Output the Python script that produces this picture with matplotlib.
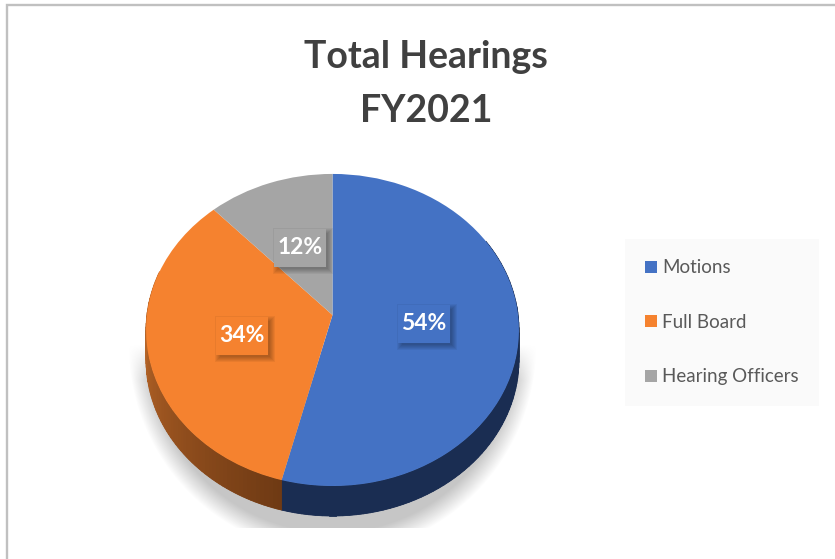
import numpy as np
import matplotlib
matplotlib.use('Agg')
import matplotlib.pyplot as plt
from matplotlib.colors import LinearSegmentedColormap, to_rgb
from matplotlib.patches import Patch, Rectangle
from matplotlib.transforms import Affine2D, Transform

plt.rcParams['font.family'] = ['Lato', 'DejaVu Sans']

categories = ['Motions', 'Full Board', 'Hearing Officers']
values = [54, 34, 12]
colors = ['#4472c4', '#f5822f', '#a5a5a5']
title_lines = ['Total Hearings', 'FY2021']

# layout, in pixels of the 835x559 picture
W, H = 835, 559
CENTER = (332.5, 315)
RX, RY = 185.6, 154.6
DEPTH = 30
TILT = 0.096
LABEL_POS = [(424, 323.5), (242, 335.5), (300, 247.5)]
LABEL_BOX = (52, 38)


class Perspective(Transform):
	input_dims = 2
	output_dims = 2

	def __init__(self, k):
		super().__init__()
		self.k = k

	def transform_non_affine(self, values):
		values = np.asarray(values, dtype=float)
		w = 1 + self.k * values[:, 1]
		return values / w[:, None]


def rim_points(angles):
	# points on the rim, angles clockwise from the top of the pie, in pixels
	t = np.radians(angles)
	return to_pixels.transform(np.column_stack([np.sin(t), np.cos(t)]))


def draw_wall(start, end, color_from, color_to, n=70):
	edges = np.linspace(start, end, n + 1)
	c1, c2 = np.array(to_rgb(color_from)), np.array(to_rgb(color_to))
	pts = rim_points(edges)
	# solid piece underneath so the slices leave no seams
	ax.fill(np.r_[pts[:, 0], pts[::-1, 0]], np.r_[pts[:, 1], pts[::-1, 1] + DEPTH], color=(c1 + c2) / 2, lw=0, zorder=2)
	for i in range(n):
		c = c1 + (c2 - c1) * i / (n - 1)
		xs = [pts[i, 0], pts[i+1, 0], pts[i+1, 0], pts[i, 0]]
		ys = [pts[i, 1], pts[i+1, 1], pts[i+1, 1] + DEPTH, pts[i, 1] + DEPTH]
		ax.fill(xs, ys, color=c, lw=0.6, zorder=3)


def draw_shadow():
	# soft grey shadow under the pie, cut off flat at the bottom
	x = np.arange(120, 545) + 0.5
	y = np.arange(340, 528) + 0.5
	X, Y = np.meshgrid(x, y)
	d = np.hypot((X - 332.5) / 204, (Y - 345) / 208)
	a = np.clip((1 - d) / 0.10, 0, 1)
	a = a * np.clip((Y - 345) / 35, 0, 1)
	cmap = LinearSegmentedColormap.from_list('shadow', ['#ffffff', '#c6c6c6'])
	ax.imshow(a, cmap=cmap, vmin=0, vmax=1, extent=(120, 545, 528, 340), aspect='auto', zorder=1)


def draw_label(value, color, x, y):
	w, h = LABEL_BOX
	# blurred drop shadow, lower right
	for grow in [4, 3, 2, 1, 0, -1]:
		ax.add_patch(Rectangle((x - w / 2 + 3 - grow, y - h / 2 + 3 - grow), w + 2 * grow, h + 2 * grow,
			fc='black', ec='none', alpha=0.05, zorder=5))
	ax.add_patch(Rectangle((x - w / 2, y - h / 2), w, h, fc=color, ec='none', zorder=5))
	ax.text(x, y, f'{value}%', color='white', fontsize=16.5, fontweight='bold', ha='center', va='center', zorder=6)


fig = plt.figure(figsize=(W / 100, H / 100), dpi=100)
ax = fig.add_axes([0, 0, 1, 1])
to_pixels = Perspective(TILT) + Affine2D().scale(RX, -RY).translate(*CENTER)

wedges, _ = ax.pie(values, colors=colors, startangle=90, counterclock=False)
for wedge in wedges:
	wedge.set_transform(to_pixels + ax.transData)
	wedge.set_zorder(4)
	wedge.set_linewidth(0)

ax.set_aspect('auto')
draw_shadow()

# side wall of the pie
split = 360 * values[0] / sum(values)
split2 = split + 360 * values[1] / sum(values)
draw_wall(60, split, '#1a2d52', '#1a2d52')
draw_wall(split, split2 - 30, '#6f3a14', '#c86f2c')

# outer frame, open on the right and at the bottom
ax.add_patch(Rectangle((7, 5), W, H, fc='white', ec='#c0c0c0', lw=1.7, zorder=0))

for value, color, (x, y) in zip(values, colors, LABEL_POS):
	draw_label(value, color, x, y)

for line, y in zip(title_lines, [57, 111]):
	ax.text(426, y, line, color='#404040', fontsize=27, fontweight='bold', ha='center', va='center', zorder=6)

handles = [Patch(fc=c, ec='none') for c in colors]
legend = ax.legend(handles, categories, loc='upper left', bbox_to_anchor=(625, 239), bbox_transform=ax.transData,
	fontsize=13.5, labelcolor='#595959', frameon=True, fancybox=False, facecolor='#fafafa', edgecolor='none', framealpha=1,
	borderaxespad=0, borderpad=1.08, labelspacing=2.0, handlelength=0.6, handleheight=0.6, handletextpad=0.3)
legend.set_zorder(6)

ax.set_xlim(0, W)
ax.set_ylim(H, 0)
ax.axis('off')
fig.savefig('out.png', dpi=100, facecolor='white')
